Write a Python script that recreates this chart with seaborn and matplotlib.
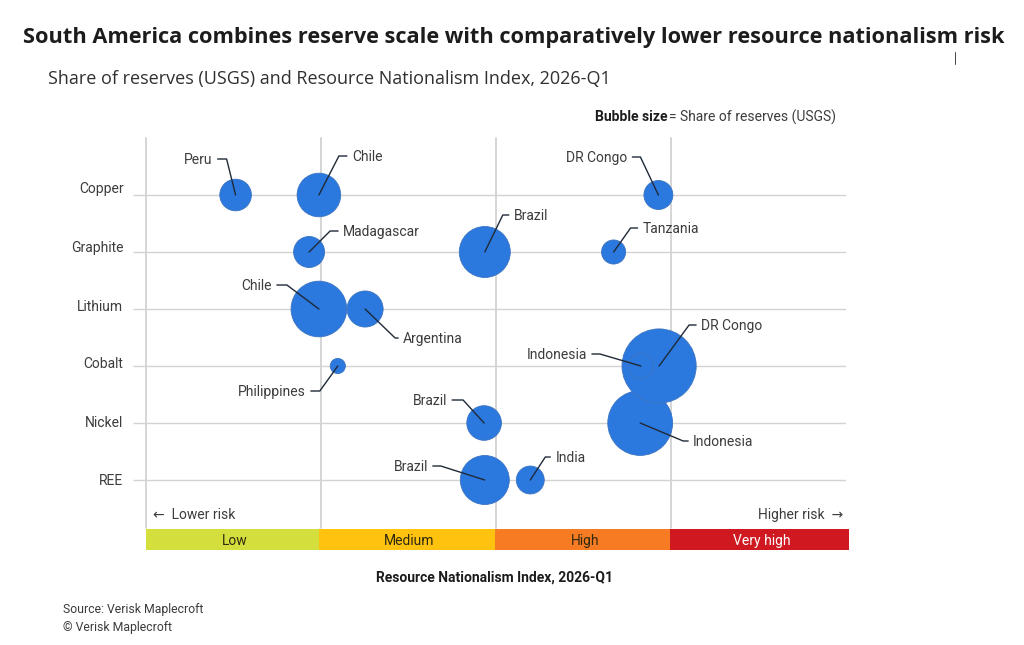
"""Bubble chart: share of reserves vs Resource Nationalism Index."""
import matplotlib
matplotlib.use('Agg')
import matplotlib.pyplot as plt
from matplotlib.lines import Line2D
import pandas as pd
import seaborn as sns

W, H = 1024, 645

MATERIALS = ['Copper', 'Graphite', 'Lithium', 'Cobalt', 'Nickel', 'REE']

# drawn in this order
countries = ['Brazil', 'India', 'Indonesia', 'Brazil', 'DR Congo', 'Indonesia', 'Philippines',
             'Chile', 'Argentina', 'Madagascar', 'Brazil', 'Tanzania', 'Peru', 'Chile', 'DR Congo']
materials = ['REE', 'REE', 'Nickel', 'Nickel', 'Cobalt', 'Cobalt', 'Cobalt',
             'Lithium', 'Lithium', 'Graphite', 'Graphite', 'Graphite', 'Copper', 'Copper', 'Copper']
risk_index = [48.4, 54.9, 70.6, 48.3, 73.3, 70.7, 27.4,
              24.7, 31.3, 23.3, 48.4, 66.8, 12.8, 24.7, 73.2]
reserve_share = [24, 7.8, 42, 12, 55, 6.3, 2.3,
                 31, 13, 9.6, 26, 5.8, 10, 19, 8.4]

# leader line: elbow dx, elbow dy, tail dx (pixels from the bubble centre)
leaders = [(-44, -14, -52), (15, -23, 20), (43, 18, 48), (-21, -23, -32), (30, -41, 37), (-41, -12, -49), (-18, 25, -27),
           (-32, -24, -42), (30, 29, 33), (21, -21, 29), (18, -37, 24), (17, -24, 24), (-9, -36, -18), (20, -39, 28), (-18, -38, -26)]

# y labels do not sit quite on their lines in the original (pixels up)
label_lift = [8, 6, 4, 4, 2, 1]

band_names = ['Low', 'Medium', 'High', 'Very high']
band_starts = [0, 24.7, 49.9, 74.9]
band_widths = [24.7, 25.2, 25.0, 25.6]
band_colors = ['#d4df3d', '#ffc20e', '#f77b22', '#cf1820']
band_text = ['#2e2a10', '#2e2a10', '#2e2a10', '#ffffff']

BLUE = '#2b78de'
GRID = '#d2d2d2'
LABEL = '#3c3c3c'
BODY = ['Roboto', 'DejaVu Sans']


def px_text(fig, x, y, s, **kw):
    kw.setdefault('family', BODY)
    kw.setdefault('va', 'center')
    kw.setdefault('color', LABEL)
    return fig.text(x / W, 1 - y / H, s, **kw)


def px_rect(x0, y0, x1, y1):
    return [x0 / W, 1 - y1 / H, (x1 - x0) / W, (y1 - y0) / H]


def main():
    sns.set_theme(style='white')
    df = pd.DataFrame({'country': countries, 'material': materials,
                       'risk': risk_index, 'share': reserve_share})
    df['row'] = [MATERIALS.index(m) for m in df['material']]

    fig = plt.figure(figsize=(W / 100, H / 100), dpi=100, facecolor='white')
    ax = fig.add_axes(px_rect(146, 138, 846, 528))

    sns.scatterplot(data=df, x='risk', y='row', size='share',
                    sizes=(0, 5184), size_norm=(0, 100), legend=False,
                    color=BLUE, edgecolor='#3b74c0', linewidth=0.6, alpha=1,
                    zorder=3, ax=ax)

    ax.set_xlim(0, 100)
    ax.set_ylim(5.842, -1)
    ax.set_xticks([0, 25, 50, 75])
    ax.set_xticklabels([])
    ax.set_yticks(range(len(MATERIALS)))
    ax.set_yticklabels([])
    for i, (name, lift) in enumerate(zip(MATERIALS, label_lift)):
        ax.annotate(name, xy=(0, i), xycoords=('axes fraction', 'data'),
                    xytext=(-22.5, lift), textcoords='offset pixels',
                    ha='right', va='center_baseline', family=BODY, fontsize=10, color=LABEL)
    ax.set_xlabel('')
    ax.set_ylabel('')
    ax.tick_params(axis='x', length=0)
    ax.tick_params(axis='y', length=9.4, width=1, color=GRID, left=True)
    ax.grid(True, color=GRID, lw=1.3, axis='x', zorder=1)
    ax.grid(True, color=GRID, lw=1.0, axis='y', zorder=1)
    ax.set_axisbelow(True)
    [gl.set_clip_on(False) for gl in ax.get_xgridlines()]
    sns.despine(ax=ax, left=True, bottom=True)

    # leader lines and country labels, in pixels so they keep to the picture
    fig.canvas.draw()
    for (_, row), (ex, ey, tx) in zip(df.iterrows(), leaders):
        cx, cy = ax.transData.transform((row['risk'], row['row']))
        line = Line2D([cx, cx + ex, cx + tx], [cy, cy - ey, cy - ey],
                      color='#1f2a38', lw=1.0, transform=None, zorder=5,
                      solid_joinstyle='round')
        fig.add_artist(line)
        side = 1 if tx > 0 else -1
        fig.text((cx + tx + side * 5) / W, (cy - ey - 1) / H, row['country'],
                 family=BODY, fontsize=10, color=LABEL, va='center',
                 ha='left' if side > 0 else 'right', zorder=6)

    # risk band strip under the plot
    band_ax = fig.add_axes(px_rect(146, 529, 849, 550))
    band_ax.barh([0] * 4, band_widths, left=band_starts, height=1, color=band_colors, linewidth=0)
    band_ax.set_xlim(0, 100.43)
    band_ax.set_ylim(-0.5, 0.5)
    band_ax.axis('off')
    for name, start, width, clr in zip(band_names, band_starts, band_widths, band_text):
        band_ax.text(start + width / 2 + 0.3, -0.06, name, ha='center', va='center',
                     family=BODY, fontsize=10, color=clr)

    px_text(fig, 514, 37, 'South America combines reserve scale with comparatively lower resource nationalism risk',
            family='Open Sans', fontsize=15.7, fontweight='bold', color='#1c1c1c', ha='center')
    px_text(fig, 48, 79, 'Share of reserves (USGS) and Resource Nationalism Index, 2026-Q1',
            family='Open Sans', fontsize=12.98, color='#303030')
    px_text(fig, 595, 117, 'Bubble size', fontsize=10, fontweight='bold', color='#1c1c1c')
    px_text(fig, 836, 117, '= Share of reserves (USGS)', fontsize=10, ha='right')
    px_text(fig, 153, 515, '←  Lower risk', fontsize=10)
    px_text(fig, 843, 515, 'Higher risk  →', fontsize=10, ha='right')
    px_text(fig, 494, 578, 'Resource Nationalism Index, 2026-Q1', fontsize=10,
            fontweight='bold', color='#1c1c1c', ha='center')
    px_text(fig, 63, 610, 'Source: Verisk Maplecroft', fontsize=8.8)
    px_text(fig, 63, 627, '© Verisk Maplecroft', fontsize=8.8)

    # stray cursor tick next to the subtitle in the original
    fig.add_artist(Line2D([955, 955], [H - 52, H - 64], color='#444444', lw=0.7, transform=None))

    plt.savefig('out.png', dpi=100, facecolor='white')
    plt.close()


if __name__ == '__main__':
    main()
